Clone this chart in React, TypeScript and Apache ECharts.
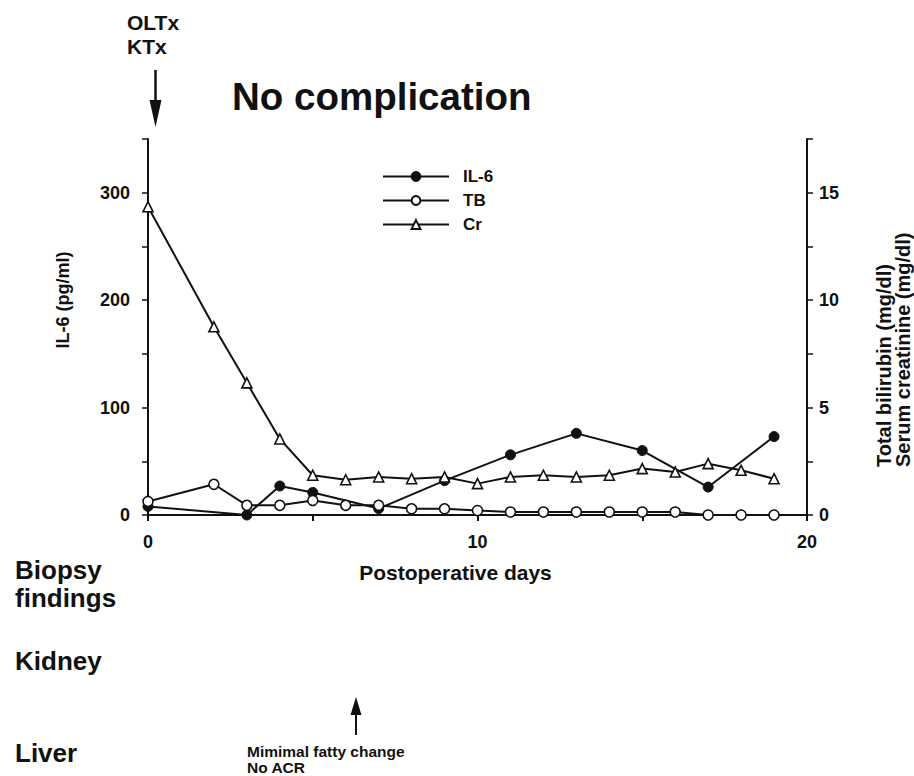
import React, { useEffect, useRef } from "react";
import * as echarts from "echarts";

// ---- data ----
const il6Days = [0, 3, 4, 5, 7, 9, 11, 13, 15, 17, 19];
const il6Values = [8, 0, 27, 21, 6, 32, 56, 76, 60, 26, 73];

const tbDays = [0, 2, 3, 4, 5, 6, 7, 8, 9, 10, 11, 12, 13, 14, 15, 16, 17, 18, 19];
const tbValues = [0.63, 1.43, 0.45, 0.45, 0.68, 0.45, 0.45, 0.29, 0.29, 0.21, 0.14, 0.14, 0.14, 0.14, 0.14, 0.14, 0, 0, 0];

const crDays = [0, 2, 3, 4, 5, 6, 7, 8, 9, 10, 11, 12, 13, 14, 15, 16, 17, 18, 19];
const crValues = [14.35, 8.76, 6.15, 3.54, 1.85, 1.64, 1.77, 1.69, 1.77, 1.46, 1.77, 1.85, 1.77, 1.85, 2.16, 2.0, 2.39, 2.08, 1.69];

const seriesNames = ["IL-6", "TB", "Cr"];
const xTickLabels = [0, 10, 20];
const leftTickLabels = [0, 100, 200, 300];
const rightTickLabels = [0, 5, 10, 15];

const FONT = "'Liberation Sans', Arial, Helvetica, sans-serif";

const pairs = (xs: number[], ys: number[]) => xs.map((x, i) => [x, ys[i]]);

export default function App() {
  const ref = useRef<HTMLDivElement>(null);

  useEffect(() => {
    document.body.style.margin = "0";
    if (!ref.current) return;
    const chart = echarts.init(ref.current, undefined, { renderer: "svg" });

    const txt = (text: string, x: number, y: number, size: number, extra: any = {}) => ({
      type: "text",
      x,
      y,
      ...extra,
      style: {
        text,
        fontFamily: FONT,
        fontWeight: "bold",
        fontSize: size,
        fill: "#111",
        align: "left",
        verticalAlign: "middle",
        ...(extra.style || {}),
      },
    });

    const option: any = {
      animation: false,
      backgroundColor: "#fff",
      grid: { left: 148, right: 107, top: 139, bottom: 261, containLabel: false },
      legend: {
        orient: "vertical",
        left: 377,
        top: 163,
        data: seriesNames,
        itemWidth: 66,
        itemHeight: 11,
        itemGap: 7,
        textStyle: {
          fontFamily: FONT,
          fontWeight: "bold",
          fontSize: 17,
          color: "#111",
          lineHeight: 17,
          padding: [0, 0, 0, 9],
        },
      },
      xAxis: {
        type: "value",
        min: 0,
        max: 20,
        interval: 5,
        splitLine: { show: false },
        axisLine: { lineStyle: { color: "#111", width: 2 } },
        axisTick: { show: true, inside: false, length: 6, lineStyle: { color: "#111", width: 2 } },
        axisLabel: {
          margin: 18,
          fontFamily: FONT,
          fontWeight: "bold",
          fontSize: 18,
          color: "#111",
          formatter: (v: number) => (xTickLabels.includes(v) ? String(v) : ""),
        },
      },
      yAxis: [
        {
          type: "value",
          min: 0,
          max: 350,
          interval: 50,
          position: "left",
          splitLine: { show: false },
          axisLine: { show: true, lineStyle: { color: "#111", width: 2 } },
          axisTick: { show: true, inside: false, length: 6, lineStyle: { color: "#111", width: 1.5 } },
          axisLabel: {
            margin: 18,
            fontFamily: FONT,
            fontWeight: "bold",
            fontSize: 18,
            color: "#111",
            formatter: (v: number) => (leftTickLabels.includes(v) ? String(v) : ""),
          },
        },
        {
          type: "value",
          min: 0,
          max: 17.5,
          interval: 2.5,
          position: "right",
          splitLine: { show: false },
          axisLine: { show: true, lineStyle: { color: "#111", width: 2 } },
          axisTick: { show: true, inside: false, length: 6, lineStyle: { color: "#111", width: 1.5 } },
          axisLabel: {
            margin: 12,
            fontFamily: FONT,
            fontWeight: "bold",
            fontSize: 18,
            color: "#111",
            formatter: (v: number) => (rightTickLabels.includes(v) ? String(v) : ""),
          },
        },
      ],
      series: [
        {
          name: seriesNames[0],
          type: "line",
          yAxisIndex: 0,
          data: pairs(il6Days, il6Values),
          symbol: "circle",
          symbolSize: 10,
          z: 3,
          lineStyle: { color: "#111", width: 2 },
          itemStyle: { color: "#111", borderColor: "#111", borderWidth: 1 },
        },
        {
          name: seriesNames[1],
          type: "line",
          yAxisIndex: 1,
          data: pairs(tbDays, tbValues),
          symbol: "circle",
          symbolSize: 10,
          z: 4,
          lineStyle: { color: "#111", width: 2 },
          itemStyle: { color: "#fff", borderColor: "#111", borderWidth: 1.6 },
        },
        {
          name: seriesNames[2],
          type: "line",
          yAxisIndex: 1,
          data: pairs(crDays, crValues),
          symbol: "triangle",
          symbolSize: 10,
          z: 5,
          lineStyle: { color: "#111", width: 2 },
          itemStyle: { color: "#fff", borderColor: "#111", borderWidth: 1.6 },
        },
      ],
      graphic: [
        txt("No complication", 232, 96, 38.5),
        txt("OLTx", 127, 22.5, 21),
        txt("KTx", 127, 46.5, 21),
        { type: "line", shape: { x1: 155.5, y1: 70, x2: 155.5, y2: 104 }, style: { stroke: "#111", lineWidth: 2.5 } },
        { type: "polygon", shape: { points: [[149.5, 100], [161.5, 100], [155.5, 127]] }, style: { fill: "#111" } },
        txt("IL-6 (pg/ml)", 63, 300, 18, { rotation: Math.PI / 2, style: { align: "center" } }),
        txt("Total bilirubin (mg/dl)", 884, 467, 20, { rotation: Math.PI / 2 }),
        txt("Serum creatinine (mg/dl)", 903, 467, 20, { rotation: Math.PI / 2 }),
        txt("Postoperative days", 455.5, 572, 21, { style: { align: "center" } }),
        txt("Biopsy", 15, 570, 26),
        txt("findings", 15, 597.5, 26),
        txt("Kidney", 15, 661, 26),
        txt("Liver", 15, 753, 26),
        { type: "line", shape: { x1: 356, y1: 712, x2: 356, y2: 735 }, style: { stroke: "#111", lineWidth: 2 } },
        { type: "polygon", shape: { points: [[350.5, 715], [361.5, 715], [356, 697]] }, style: { fill: "#111" } },
        txt("Mimimal fatty change", 247, 751, 15.5),
        txt("No ACR", 247, 767, 15.5),
      ],
    };

    chart.setOption(option);
    return () => chart.dispose();
  }, []);

  return <div ref={ref} style={{ width: 914, height: 776 }} />;
}
